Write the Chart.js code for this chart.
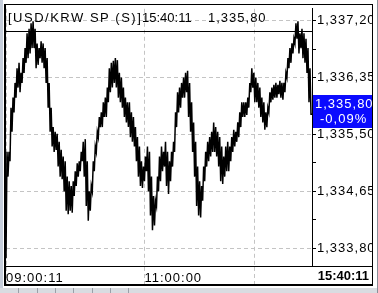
<!DOCTYPE html>
<html>
<head>
<meta charset="utf-8">
<script src="https://cdn.jsdelivr.net/npm/chart.js@4"></script>
<style>
  html, body { margin: 0; padding: 0; background: #fff; }
</style>
</head>
<body>
<canvas id="chart" width="378" height="293"></canvas>
<script>
// Price path: for each small time step the low and the high of the trace
const lows = [
  1333.65, 1334.87, 1335.10, 1335.54, 1335.83, 1336.05, 1336.20, 1336.13, 1336.27, 1336.42,
  1336.57, 1336.64, 1336.71, 1336.79, 1336.79, 1336.49, 1336.54, 1336.64, 1336.57, 1336.49,
  1336.27, 1335.90, 1335.54, 1335.32, 1335.24, 1335.27, 1335.02, 1334.87, 1334.83, 1334.65,
  1334.36, 1334.31, 1334.36, 1334.33, 1334.58, 1334.73, 1334.87, 1334.95, 1335.10, 1334.87,
  1334.43, 1334.21, 1334.36, 1334.65, 1334.95, 1335.24, 1335.46, 1335.61, 1335.61, 1335.76,
  1335.76, 1335.98, 1336.13, 1336.20, 1336.27, 1336.20, 1336.05, 1335.98, 1335.90, 1335.76,
  1335.68, 1335.61, 1335.46, 1335.39, 1335.32, 1335.10, 1334.87, 1334.73, 1334.70, 1334.80,
  1334.95, 1334.65, 1334.29, 1334.07, 1334.14, 1334.43, 1334.65, 1334.80, 1334.95, 1335.02,
  1334.73, 1334.61, 1334.80, 1335.02, 1335.24, 1335.61, 1335.83, 1335.90, 1336.05, 1336.05,
  1336.13, 1335.76, 1335.54, 1335.24, 1334.87, 1334.43, 1334.29, 1334.26, 1334.51, 1334.80,
  1335.02, 1335.10, 1335.17, 1335.24, 1335.24, 1335.17, 1335.02, 1334.80, 1334.76, 1334.87,
  1334.95, 1334.95, 1335.10, 1335.24, 1335.32, 1335.39, 1335.46, 1335.61, 1335.76, 1335.76,
  1335.79, 1335.90, 1336.13, 1336.20, 1335.98, 1335.98, 1335.90, 1335.76, 1335.68, 1335.57,
  1335.61, 1335.83, 1335.98, 1336.02, 1336.05, 1336.05, 1336.10, 1336.05, 1336.02, 1336.13,
  1336.35, 1336.49, 1336.57, 1336.71, 1336.86, 1336.93, 1336.71, 1336.79, 1336.64, 1336.57,
  1336.42, 1335.98, 1335.80
];
const highs = [
  1335.24, 1335.24, 1335.90, 1336.05, 1336.27, 1336.49, 1336.57, 1336.42, 1336.64, 1336.79,
  1337.01, 1337.08, 1337.16, 1337.19, 1337.08, 1336.86, 1336.79, 1336.89, 1336.86, 1336.79,
  1336.64, 1336.27, 1335.90, 1335.61, 1335.54, 1335.51, 1335.39, 1335.27, 1335.17, 1335.10,
  1334.87, 1334.80, 1334.73, 1334.80, 1334.95, 1335.07, 1335.10, 1335.24, 1335.39, 1335.43,
  1335.10, 1334.65, 1334.73, 1335.10, 1335.32, 1335.54, 1335.76, 1335.83, 1335.98, 1336.05,
  1336.20, 1336.49, 1336.57, 1336.60, 1336.64, 1336.61, 1336.42, 1336.35, 1336.20, 1336.05,
  1335.98, 1335.98, 1335.83, 1335.76, 1335.61, 1335.46, 1335.32, 1335.10, 1335.02, 1335.17,
  1335.32, 1335.24, 1334.87, 1334.58, 1334.51, 1334.87, 1335.17, 1335.32, 1335.24, 1335.39,
  1335.24, 1335.10, 1335.24, 1335.39, 1335.83, 1336.13, 1336.20, 1336.27, 1336.35, 1336.42,
  1336.45, 1336.27, 1335.98, 1335.68, 1335.39, 1335.02, 1334.80, 1334.73, 1335.02, 1335.24,
  1335.39, 1335.46, 1335.54, 1335.68, 1335.61, 1335.54, 1335.46, 1335.32, 1335.17, 1335.32,
  1335.39, 1335.32, 1335.46, 1335.57, 1335.54, 1335.68, 1335.83, 1335.98, 1335.98, 1335.98,
  1336.05, 1336.27, 1336.49, 1336.42, 1336.35, 1336.27, 1336.20, 1336.05, 1335.98, 1335.83,
  1335.90, 1336.13, 1336.20, 1336.24, 1336.27, 1336.24, 1336.30, 1336.27, 1336.27, 1336.42,
  1336.64, 1336.79, 1336.86, 1336.93, 1337.16, 1337.19, 1337.01, 1337.08, 1337.01, 1336.93,
  1336.79, 1336.49, 1335.80
];

const yTickValues = [1333.80, 1334.225, 1334.65, 1335.075, 1335.50, 1335.925, 1336.35, 1336.775, 1337.20];
const yTickLabels = ['1,333,80', '', '1,334,65', '', '1,335,50', '', '1,336,35', '', '1,337,20'];
const xTickIndex = [0, 138, 248];
const xTickLabels = ['09:00:11', '11:00:00', ''];

const titleName = '[USD/KRW SP (S)]';
const lastTime = '15:40:11';
const lastPrice = '1,335,80';
const changePct = '-0,09%';

const FONT = '"Liberation Sans", Arial, sans-serif';

// zigzag low/high per step so the trace has the same ragged body
const series = [];
lows.forEach((lo, i) => {
    series.push({ x: series.length, y: lo });
    series.push({ x: series.length, y: highs[i] });
});

const frame = {
    id: 'frame',
    beforeDraw(chart) {
        // the terminal font is wider than Liberation, spread the axis labels a bit
        chart.ctx.letterSpacing = '1px';
    },
    afterDraw(chart) {
        const ctx = chart.ctx;
        const a = chart.chartArea;
        ctx.save();
        // cut off anything right of / below the frame
        ctx.fillStyle = '#fff';
        ctx.fillRect(373, 0, 5, 293);
        ctx.fillRect(0, 286, 378, 7);
        // window edges
        ctx.fillStyle = '#c6cedb';
        ctx.fillRect(0, 0, 3, 288);
        ctx.fillStyle = '#d9dce1';
        ctx.fillRect(0, 288, 378, 5);
        ctx.fillStyle = '#9aa0a8';
        [18, 37, 55, 73, 92, 110, 128].forEach(x => ctx.fillRect(x, 288, 1, 5));
        ctx.fillStyle = '#8a9099';
        ctx.fillRect(377, 0, 1, 293);

        // outer frame
        ctx.strokeStyle = '#000';
        ctx.lineWidth = 1;
        ctx.beginPath();
        ctx.moveTo(5, 4.5); ctx.lineTo(372.5, 4.5);
        ctx.moveTo(372.5, 4); ctx.lineTo(372.5, 286);
        ctx.moveTo(a.left, 31.5); ctx.lineTo(a.right, 31.5);
        ctx.moveTo(a.right, a.bottom + 0.5); ctx.lineTo(372.5, a.bottom + 0.5);
        ctx.stroke();
        ctx.lineWidth = 2;
        ctx.beginPath();
        ctx.moveTo(5, 4); ctx.lineTo(5, 286);
        ctx.moveTo(4, 285); ctx.lineTo(373, 285);
        ctx.stroke();

        // title
        ctx.fillStyle = '#000';
        ctx.font = '13px ' + FONT;
        ctx.textBaseline = 'middle';
        ctx.textAlign = 'left';
        ctx.letterSpacing = '1.5px';
        ctx.fillText(titleName, 8, 18);
        ctx.letterSpacing = '0px';
        ctx.fillText(lastTime, 142, 18);
        ctx.letterSpacing = '1px';
        ctx.fillText(lastPrice, 208, 18);

        // current price tag
        ctx.fillStyle = '#0a0aff';
        ctx.fillRect(a.right + 1, 95, 372 - a.right - 1, 33);
        ctx.fillStyle = '#fff';
        ctx.textAlign = 'left';
        ctx.fillText(lastPrice, 315, 104);
        ctx.fillText(changePct, 320, 119);

        // last time in the axis strip
        ctx.fillStyle = '#000';
        ctx.font = 'bold 13px ' + FONT;
        ctx.textAlign = 'right';
        ctx.letterSpacing = '0px';
        ctx.fillText(lastTime, 369, 276);
        ctx.restore();
    }
};

new Chart(document.getElementById('chart'), {
    type: 'line',
    data: {
        datasets: [{
            data: series,
            borderColor: '#000',
            borderWidth: 1.5,
            pointRadius: 0,
            tension: 0
        }]
    },
    options: {
        responsive: false,
        animation: false,
        devicePixelRatio: 1,
        layout: { padding: { left: 6, top: 5, right: 6, bottom: 8 } },
        plugins: {
            legend: { display: false },
            tooltip: { enabled: false }
        },
        scales: {
            x: {
                type: 'linear',
                min: 0,
                max: series.length - 1,
                afterBuildTicks: (scale) => {
                    scale.ticks = xTickIndex.map(v => ({ value: v }));
                },
                afterFit: (scale) => { scale.height = 19; },
                grid: {
                    color: '#c4c4c4',
                    tickColor: '#c4c4c4',
                    tickLength: 19,
                    tickBorderDash: [4, 3]
                },
                border: { color: '#000', dash: [4, 3] },
                ticks: {
                    autoSkip: false,
                    maxRotation: 0,
                    align: 'start',
                    padding: -14,
                    color: '#000',
                    font: { family: FONT, size: 13 },
                    callback: (v, i) => xTickLabels[i]
                }
            },
            y: {
                position: 'right',
                min: 1333.535,
                max: 1337.377,
                afterBuildTicks: (scale) => {
                    scale.ticks = yTickValues.map(v => ({ value: v }));
                },
                afterFit: (scale) => { scale.width = 60; },
                grid: {
                    color: (c) => (c.index % 2 === 0 ? '#c4c4c4' : 'transparent'),
                    tickColor: '#000',
                    tickLength: 4
                },
                border: { color: '#000', dash: [4, 3] },
                ticks: {
                    autoSkip: false,
                    padding: 1,
                    color: '#000',
                    font: { family: FONT, size: 13 },
                    callback: (v, i) => yTickLabels[i]
                }
            }
        }
    },
    plugins: [frame]
});
</script>
</body>
</html>
